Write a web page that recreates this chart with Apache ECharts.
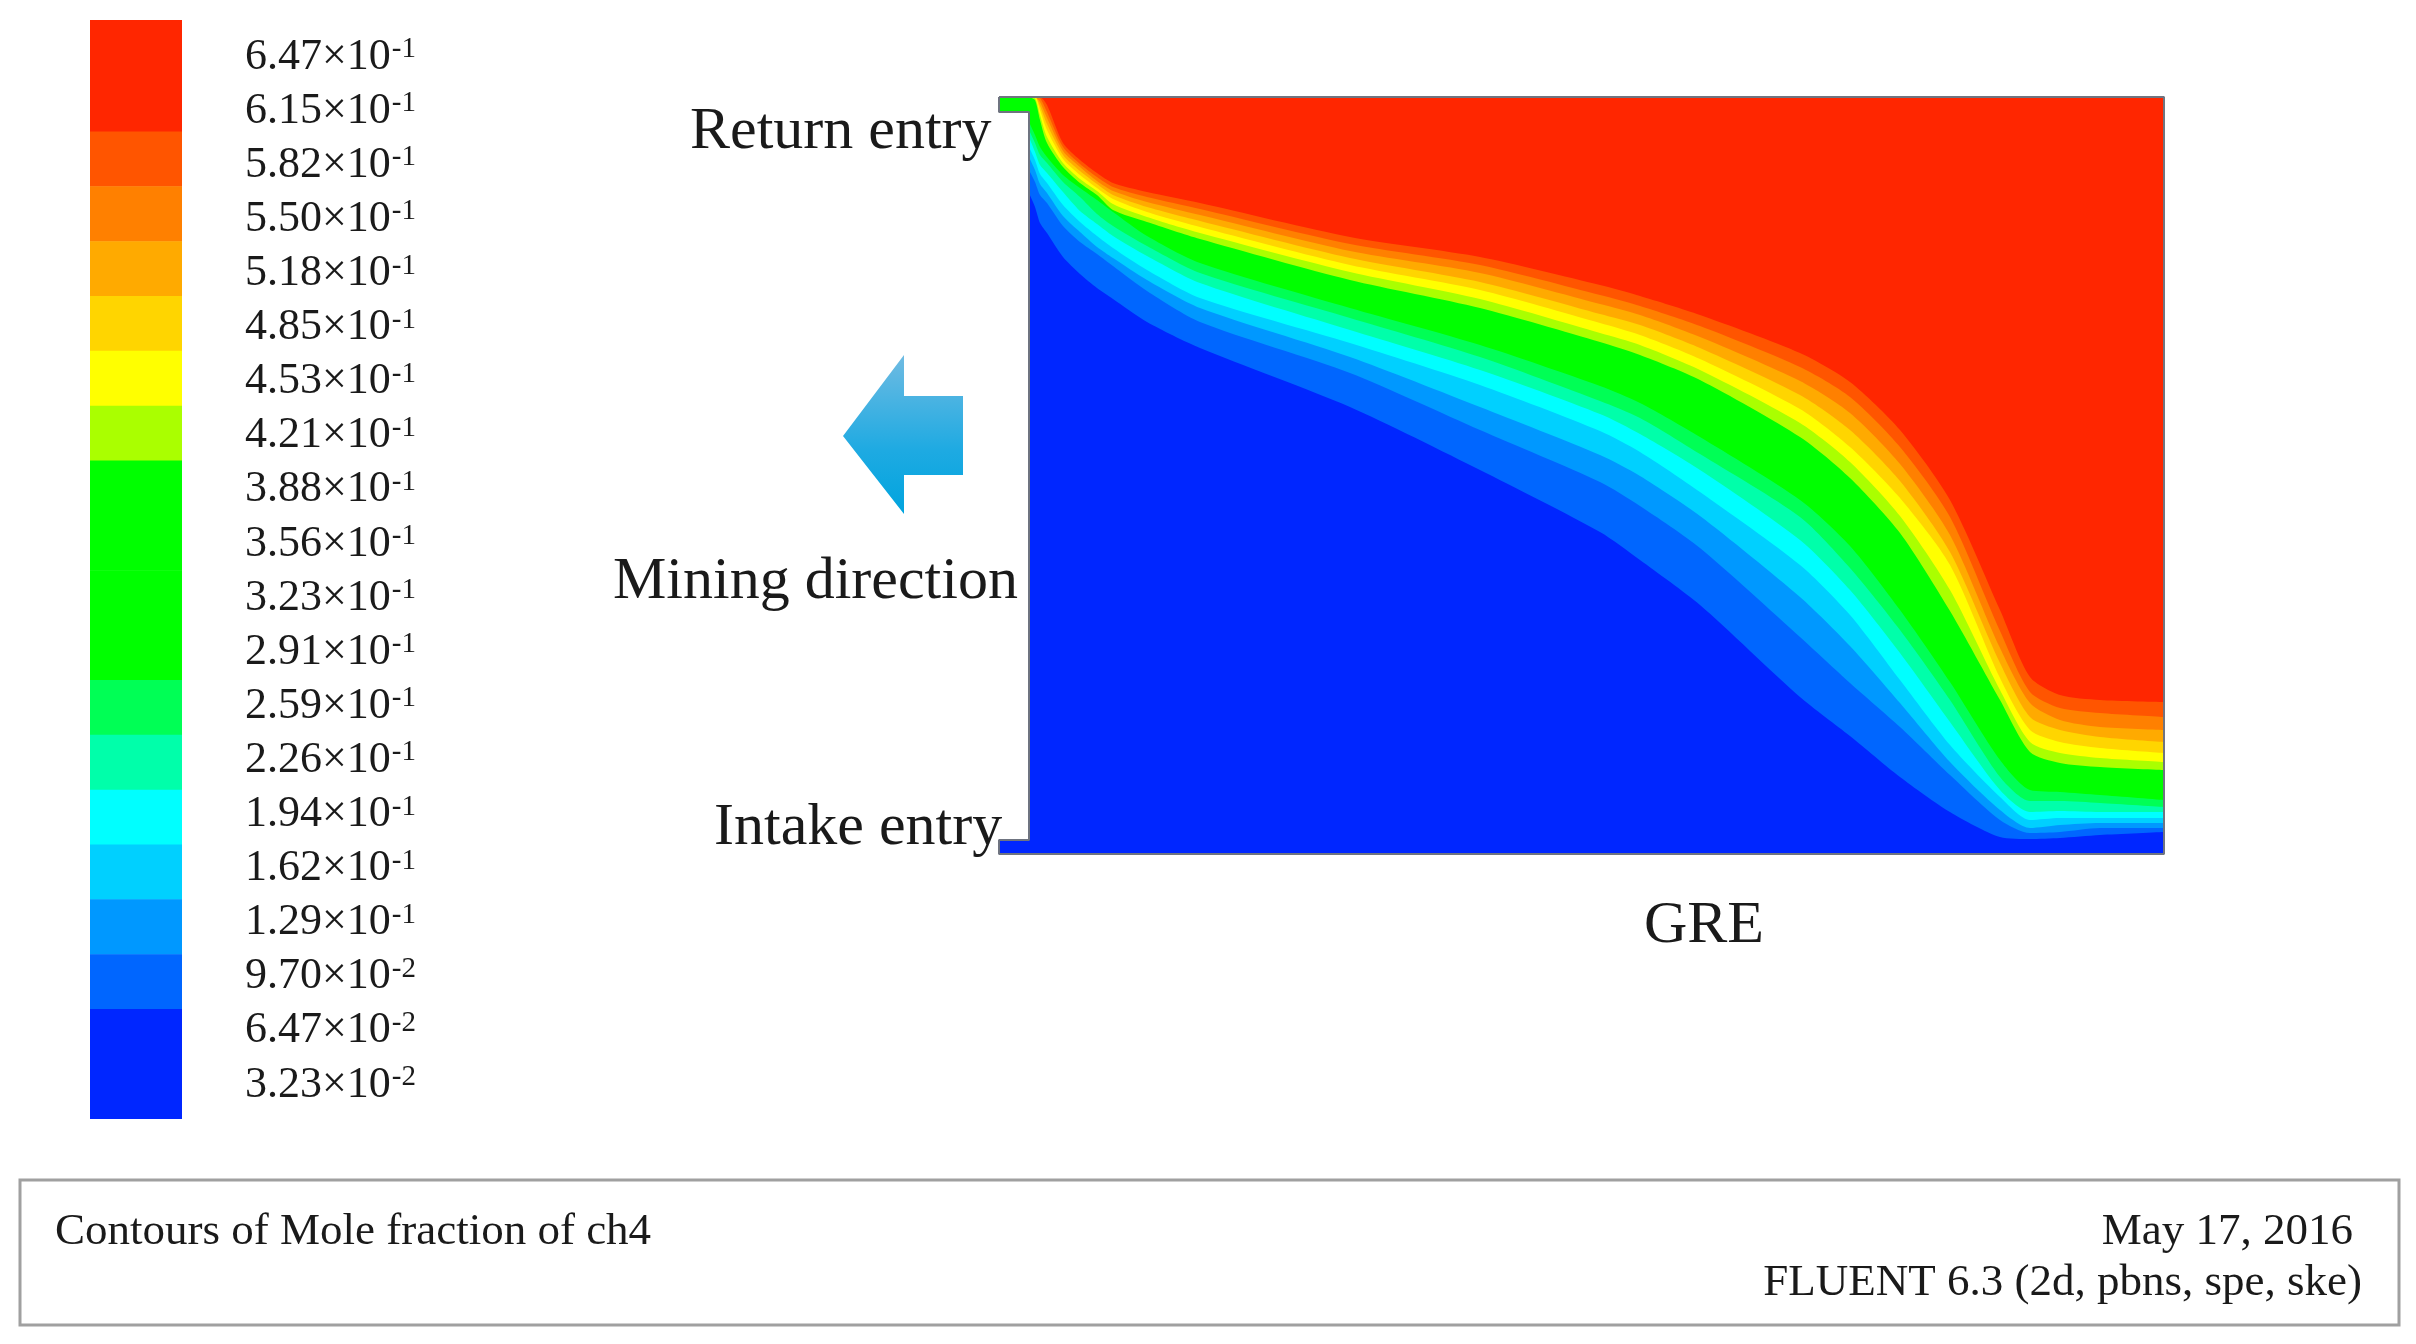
<!DOCTYPE html>
<html>
<head>
<meta charset="utf-8">
<title>Contours of Mole fraction of ch4</title>
<script src="https://cdn.jsdelivr.net/npm/echarts@6/dist/echarts.min.js"></script>
<style>
  html, body { margin: 0; padding: 0; background: #fff; }
  /* the source is a soft raster, keep the edges from looking too crisp */
  #chart { width: 2416px; height: 1344px; filter: blur(0.6px); }
</style>
</head>
<body>
<div id="chart"></div>
<script>
// colour bar, top to bottom
var tickLabels = ['6.47×10^-1','6.15×10^-1','5.82×10^-1','5.50×10^-1','5.18×10^-1','4.85×10^-1','4.53×10^-1','4.21×10^-1','3.88×10^-1','3.56×10^-1',
  '3.23×10^-1','2.91×10^-1','2.59×10^-1','2.26×10^-1','1.94×10^-1','1.62×10^-1','1.29×10^-1','9.70×10^-2','6.47×10^-2','3.23×10^-2'];
var levelColors = ['#ff2600','#ff2600','#ff5500','#ff8000','#ffaa00','#ffd500','#ffff00','#aaff00','#00ff00','#00ff00',
  '#00ff00','#00ff00','#00ff55','#00ffaa','#00ffff','#00d0ff','#0098ff','#0066ff','#0026ff','#0026ff'];

var stationX = [1029,1035,1040,1047,1063,1080,1097,1113,1147,1200,1350,1480,1600,1640,1700,1800,1850,1900,1950,2000,2030,2060,2100,2164];
var top0  = [97,97,97,97,97,97,97,97,97,97,97,97,97,97,97,97,97,97,97,97,97,97,97,97];
var b5500 = [97,97,97,105,143,160,173,183,192,203,237,257,285,296,315,353,382,430,500,610,677,695,700,702];
var b8000 = [97,97,98,112,147,164,177,187,197,209,244,265,295,306,326,367,397,447,517,631,692,708,713,717];
var bAA00 = [97,97,102,118,151,167,181,191,202,215,251,273,304,315,337,381,413,464,535,648,703,720,727,730];
var bD500 = [97,97,106,124,155,171,184,195,207,221,258,282,314,325,348,395,430,481,552,663,717,730,737,742];
var bFF00 = [97,97,110,130,159,175,188,199,212,227,265,290,323,335,359,409,447,498,565,678,730,742,748,753];
var bLime = [97,98,115,137,163,179,191,204,217,233,272,299,333,345,370,423,462,516,590,690,742,753,758,762];
var bGreen = [97,100,120,143,167,183,195,210,222,239,280,308,342,355,380,437,478,533,611,700,752,763,767,770];
var bFF55 = [122,135,147,157,175,188,200,212,236,263,308,345,386,403,437,500,546,610,682,760,790,792,795,800];
var bFFAA = [130,143,155,163,182,197,214,226,246,273,318,357,401,418,454,517,568,630,700,777,801,801,803,807];
var bCyan = [137,152,165,173,192,211,224,236,256,283,330,370,414,434,470,540,590,653,722,790,812,811,812,812];
var bD0 = [147,160,174,183,205,222,236,248,270,298,343,385,431,452,492,565,615,680,745,797,820,818,818,818];
var b98 = [157,170,184,193,216,232,247,258,280,308,357,407,455,476,516,597,646,703,762,810,828,825,823,823];
var b66 = [170,182,195,203,226,242,254,266,291,322,373,430,482,506,548,637,683,727,775,820,833,832,828,828];
var b26 = [193,207,223,233,257,274,288,299,322,348,407,470,532,560,605,697,736,777,812,837,839,838,835,832];

var contourLines = [top0,b5500,b8000,bAA00,bD500,bFF00,bLime,bGreen,bFF55,bFFAA,bCyan,bD0,b98,b66,b26];
var contourColors = ['#ff2600','#ff5500','#ff8000','#ffaa00','#ffd500','#ffff00','#aaff00','#00ff00','#00ff55','#00ffaa','#00ffff','#00d0ff','#0098ff','#0066ff','#0026ff'];

// return and intake entries: x0, y0, x1, y1
var returnEntry = [999,97,1029,112];
var intakeEntry = [999,840,1029,854];
var domainOutline = [[999,97],[2164,97],[2164,854],[999,854],[999,840],[1029,840],[1029,112],[999,112],[999,97]];

var serif = '"Liberation Serif", "Times New Roman", serif';

var series = [];
contourLines.forEach(function (line, i) {
  series.push({
    type: 'line',
    xAxisIndex: 0,
    yAxisIndex: 0,
    data: stationX.map(function (x, k) { return [x, line[k]]; }),
    showSymbol: false,
    smooth: 0.25,
    lineStyle: { width: 0 },
    areaStyle: { color: contourColors[i], opacity: 1, origin: 'end' },
    silent: true,
    animation: false
  });
});

function drawEntry(color) {
  return function (params, api) {
    var a = api.coord([api.value(0), api.value(1)]);
    var b = api.coord([api.value(2), api.value(3)]);
    return { type: 'rect', shape: { x: a[0], y: a[1], width: b[0] - a[0], height: b[1] - a[1] }, style: { fill: color } };
  };
}
series.push({ type: 'custom', xAxisIndex: 0, yAxisIndex: 0, data: [returnEntry], renderItem: drawEntry('#00ff00'), clip: false, silent: true, animation: false });
series.push({ type: 'custom', xAxisIndex: 0, yAxisIndex: 0, data: [intakeEntry], renderItem: drawEntry('#0026ff'), clip: false, silent: true, animation: false });
series.push({
  type: 'line',
  xAxisIndex: 0,
  yAxisIndex: 0,
  data: domainOutline,
  showSymbol: false,
  clip: false,
  lineStyle: { color: '#6f7480', width: 2 },
  silent: true,
  animation: false
});

// colour bar cells
series.push({
  type: 'bar',
  xAxisIndex: 1,
  yAxisIndex: 1,
  barWidth: '101%',
  data: levelColors.map(function (c) { return { value: 1, itemStyle: { color: c } }; }),
  silent: true,
  animation: false
});

var option = {
  backgroundColor: '#fff',
  grid: [
    { left: 999, top: 97, width: 1165, height: 757 },
    { left: 90, top: 22, width: 92, height: 1097 },
    { left: 200, top: 30, width: 45, height: 1082 }
  ],
  xAxis: [
    { type: 'value', gridIndex: 0, min: 999, max: 2164, show: false },
    { type: 'value', gridIndex: 1, min: 0, max: 1, show: false },
    { type: 'value', gridIndex: 2, min: 0, max: 1, show: false }
  ],
  yAxis: [
    { type: 'value', gridIndex: 0, min: 97, max: 854, inverse: true, show: false },
    { type: 'category', gridIndex: 1, inverse: true, data: tickLabels, show: false },
    {
      type: 'category',
      gridIndex: 2,
      inverse: true,
      position: 'right',
      data: tickLabels,
      axisLine: { show: false },
      axisTick: { show: false },
      splitLine: { show: false },
      axisLabel: {
        margin: 0,
        interval: 0,
        align: 'left',
        formatter: function (v) {
          var p = v.split('^');
          return '{m|' + p[0] + '}{e|' + p[1] + '}';
        },
        rich: {
          m: { fontFamily: serif, fontSize: 44, color: '#1a1a1a' },
          e: { fontFamily: serif, fontSize: 29, color: '#1a1a1a', verticalAlign: 'top', padding: [0, 0, 12, 1] }
        }
      }
    }
  ],
  series: series,
  graphic: [
    { type: 'rect', shape: { x: 90, y: 20, width: 92, height: 4 }, style: { fill: '#ff2600' } },
    {
      type: 'polygon',
      shape: { points: [[843,436],[904,355],[904,396],[963,396],[963,475],[904,475],[904,514]] },
      style: {
        fill: { type: 'linear', x: 0, y: 0, x2: 0, y2: 1, colorStops: [{ offset: 0, color: '#6fbbe2' }, { offset: 0.6, color: '#1eaae2' }, { offset: 1, color: '#00a4de' }] }
      }
    },
    { type: 'text', style: { text: 'Return entry', x: 690, y: 132, font: '60px ' + serif, fill: '#1a1a1a', textVerticalAlign: 'middle' } },
    { type: 'text', style: { text: 'Mining direction', x: 613, y: 582, font: '60px ' + serif, fill: '#1a1a1a', textVerticalAlign: 'middle' } },
    { type: 'text', style: { text: 'Intake entry', x: 714, y: 828, font: '60px ' + serif, fill: '#1a1a1a', textVerticalAlign: 'middle' } },
    { type: 'text', style: { text: 'GRE', x: 1644, y: 926, font: '60px ' + serif, fill: '#1a1a1a', textVerticalAlign: 'middle' } },
    { type: 'rect', shape: { x: 20, y: 1180, width: 2379, height: 145 }, style: { fill: 'none', stroke: '#a0a0a0', lineWidth: 3 } },
    { type: 'text', style: { text: 'Contours of Mole fraction of ch4', x: 55, y: 1232, font: '45px ' + serif, fill: '#1a1a1a', textVerticalAlign: 'middle' } },
    { type: 'text', style: { text: 'May 17, 2016', x: 2353, y: 1232, font: '45px ' + serif, fill: '#1a1a1a', textAlign: 'right', textVerticalAlign: 'middle' } },
    { type: 'text', style: { text: 'FLUENT 6.3 (2d, pbns, spe, ske)', x: 2362, y: 1283, font: '45px ' + serif, fill: '#1a1a1a', textAlign: 'right', textVerticalAlign: 'middle' } }
  ]
};

var myChart = echarts.init(document.getElementById('chart'), null, { renderer: 'canvas' });
myChart.setOption(option);
</script>
</body>
</html>
